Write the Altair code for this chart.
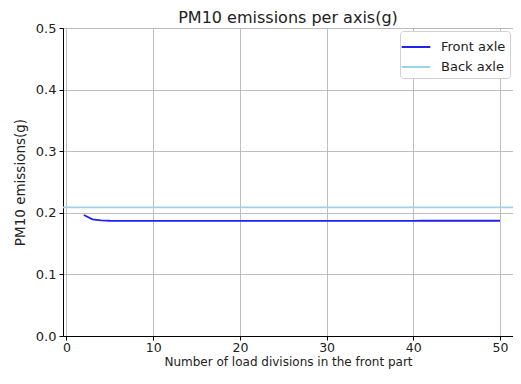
import altair as alt
import pandas as pd

x_vals = list(range(2, 51))
front = [0.1965, 0.1895, 0.1877, 0.1871, 0.1869, 0.1868, 0.1868, 0.1868, 0.1868] + [0.1868] * 10 + [0.1869] * 10 + [0.1870] * 10 + [0.1871] * 10
back_value = 0.2088

font = "DejaVu Sans"
series_names = ["Front axle", "Back axle"]
colors = ["#2222f0", "#9ed2ea"]

front_df = pd.DataFrame({"x": x_vals, "y": front, "series": "Front axle"})
back_df = pd.DataFrame({"y": [back_value], "series": ["Back axle"]})

color_enc = alt.Color("series:N", sort=series_names,
                      scale=alt.Scale(domain=series_names, range=colors),
                      legend=alt.Legend(title=None, orient="top-right", symbolType="M-1.3,0H1.3",
                                        symbolStrokeWidth=2, symbolSize=484, labelFont=font, labelFontSize=13,
                                        labelColor="#222", fillColor="white", strokeColor="#d0d0d0",
                                        padding=4, offset=3, rowPadding=1, cornerRadius=3, labelOffset=13))

xaxis = alt.Axis(title="Number of load divisions in the front part", values=[0, 10, 20, 30, 40, 50],
                 format="d", grid=True, gridColor="#b8b8b8", gridWidth=0.9,
                 domainColor="black", tickColor="black", tickSize=4,
                 labelColor="#222", titleColor="#222", labelFontSize=12.5, titleFontSize=12,
                 labelFont=font, titleFont=font, titleFontWeight="normal", titlePadding=3,
                 labelPadding=1)
yaxis = alt.Axis(title="PM10 emissions(g)", values=[0, 0.1, 0.2, 0.3, 0.4, 0.5], format=".1f",
                 grid=True, gridColor="#b8b8b8", gridWidth=0.9,
                 domainColor="black", tickColor="black", tickSize=4,
                 labelColor="#222", titleColor="#222", labelFontSize=13, titleFontSize=13.5,
                 labelFont=font, titleFont=font, titleFontWeight="normal", titlePadding=8,
                 labelPadding=3)

xs = alt.Scale(domain=[-0.4, 51.5], nice=False, zero=False)
ys = alt.Scale(domain=[0, 0.5], nice=False)

back = alt.Chart(back_df).mark_rule(strokeWidth=1.8).encode(
    y=alt.Y("y:Q", scale=ys, axis=yaxis),
    color=color_enc,
)

front_line = alt.Chart(front_df).mark_line(strokeWidth=1.8, clip=True).encode(
    x=alt.X("x:Q", scale=xs, axis=xaxis),
    y=alt.Y("y:Q", scale=ys, axis=yaxis),
    color=color_enc,
)

chart = alt.layer(back, front_line).properties(
    width=450, height=308,
    title=alt.TitleParams("PM10 emissions per axis(g)", font=font, fontSize=16, fontWeight="normal",
                          color="#222", offset=0.5, dy=4, frame="group", anchor="middle"),
    autosize=alt.AutoSizeParams(type="none"),
    padding={"left": 55, "top": 20, "right": 0, "bottom": 33},
).configure_view(stroke="black", strokeWidth=1).configure(background="white")

chart.save("out.html", embed_options={"renderer": "svg", "actions": False})
